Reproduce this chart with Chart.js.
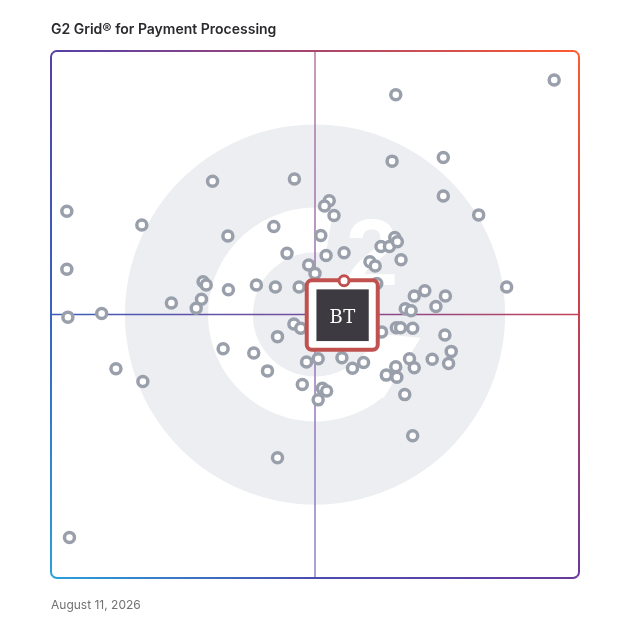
<!DOCTYPE html>
<html>
<head>
<meta charset="utf-8">
<script src="https://cdn.jsdelivr.net/npm/chart.js@4.4.1/dist/chart.umd.min.js"></script>
<style>
  html, body { margin: 0; padding: 0; background: #ffffff; }
  #wrap { position: relative; width: 628px; height: 628px; }
  #chartBox { position: absolute; left: 0; top: 0; width: 628px; height: 628px; }
  #title { position: absolute; left: 51px; top: 20px; font-family: Inter, "Noto Sans", sans-serif; font-weight: 600; font-size: 14px; color: #2a2a2e; white-space: nowrap; }
  #date { position: absolute; left: 51px; top: 597px; font-family: Inter, "Noto Sans", sans-serif; font-weight: 400; font-size: 12px; color: #717171; white-space: nowrap; }
</style>
</head>
<body>
<div id="wrap">
  <div id="chartBox"><canvas id="c"></canvas></div>
  <div id="title">G2 Grid® for Payment Processing</div>
  <div id="date">August 11, 2026</div>
</div>
<script>
// Satisfaction (x) and Market Presence (y) scores, 0..100
const satisfaction = [
  3.0, 3.0, 3.2, 9.6, 12.3, 17.4, 17.2, 30.6, 46.1, 33.5,
  42.2, 44.7, 48.8, 50.0, 28.8, 29.4, 22.8, 28.5, 27.5, 33.6,
  38.9, 42.5, 47.0, 52.7, 51.8, 53.6, 51.1, 52.1, 55.5, 60.4,
  61.4, 62.5, 64.1, 65.1, 65.6, 66.3, 61.7, 95.3, 65.3, 64.6,
  74.3, 74.3, 81.0, 86.3, 70.8, 68.8, 74.7, 72.9, 67.1, 68.2,
  65.4, 66.2, 68.5, 62.6, 74.6, 75.8, 75.3, 72.2, 67.9, 68.8,
  65.3, 63.5, 65.5, 67.0, 59.2, 57.1, 55.1, 50.6, 48.4, 47.6,
  51.4, 52.2, 50.6, 68.5, 46.0, 47.3, 42.9, 32.6, 38.4, 41.0,
  42.9, 3.5
];
const marketPresence = [
  69.6, 58.6, 49.5, 50.2, 39.7, 37.3, 67.0, 75.3, 75.7, 64.9,
  66.7, 61.6, 59.4, 57.8, 56.2, 55.6, 52.2, 52.9, 51.2, 54.7,
  55.6, 55.2, 55.2, 71.6, 70.6, 68.8, 65.0, 61.2, 61.7, 60.0,
  59.2, 62.9, 62.9, 64.6, 63.8, 60.4, 55.9, 94.5, 91.7, 79.1,
  79.8, 72.5, 68.9, 55.2, 54.5, 53.5, 53.5, 51.5, 51.1, 50.7,
  47.5, 47.5, 47.4, 46.7, 46.1, 43.0, 40.7, 41.5, 41.6, 39.9,
  40.1, 38.5, 38.1, 34.8, 40.9, 39.8, 41.8, 41.6, 41.0, 36.7,
  36.0, 35.5, 33.8, 27.0, 48.2, 47.4, 45.8, 43.5, 42.7, 39.3,
  22.8, 7.7
];
const highlightLabel = "BT";
const highlightSatisfaction = [55.5];
const highlightMarketPresence = [56.4];
const watermarkGlyph = "2";

const grayPoints = satisfaction.map((x, i) => ({ x: x, y: marketPresence[i] }));
const redPoints = highlightSatisfaction.map((x, i) => ({ x: x, y: highlightMarketPresence[i] }));

function mkGrad(ctx, x0, y0, x1, y1, stops) {
  const g = ctx.createLinearGradient(x0, y0, x1, y1);
  stops.forEach(s => g.addColorStop(s[0], s[1]));
  return g;
}

const gridPlugin = {
  id: 'g2grid',
  beforeDatasetsDraw(chart) {
    const ctx = chart.ctx;
    const xs = chart.scales.x, ys = chart.scales.y;
    const ca = chart.chartArea;
    const cx = xs.getPixelForValue(50), cy = ys.getPixelForValue(50);
    const u = xs.getPixelForValue(1) - xs.getPixelForValue(0);
    ctx.save();
    // watermark logo
    ctx.fillStyle = '#eceef1';
    ctx.beginPath();
    ctx.arc(cx, cy, 36 * u, 0, Math.PI * 2);
    ctx.fill();
    ctx.strokeStyle = '#ffffff';
    ctx.lineWidth = 8.5 * u;
    ctx.beginPath();
    ctx.arc(cx, cy, 16 * u, -80 * Math.PI / 180, 50 * Math.PI / 180, true);
    ctx.stroke();
    ctx.fillStyle = '#ffffff';
    ctx.beginPath();
    ctx.moveTo(cx + 13.4 * u, cy + 3.8 * u);
    ctx.lineTo(cx + 20.0 * u, cy + 4.4 * u);
    ctx.lineTo(cx + 13.0 * u, cy + 15.8 * u);
    ctx.lineTo(cx + 7.6 * u, cy + 9.0 * u);
    ctx.closePath();
    ctx.fill();
    ctx.font = 'bold ' + (18 * u) + 'px "Liberation Sans", Arial, sans-serif';
    ctx.textAlign = 'center';
    ctx.textBaseline = 'alphabetic';
    ctx.fillText(watermarkGlyph, cx + 10.8 * u, cy - 5.6 * u);

    // quadrant lines
    ctx.lineWidth = 1.5;
    ctx.strokeStyle = mkGrad(ctx, 0, ca.top, 0, ca.bottom, [[0, '#b47aa4'], [0.5, '#9a72b4'], [1, '#8a86cc']]);
    ctx.beginPath();
    ctx.moveTo(cx, ca.top); ctx.lineTo(cx, ca.bottom);
    ctx.stroke();
    ctx.strokeStyle = mkGrad(ctx, ca.left, 0, ca.right, 0, [[0, '#3b5cb8'], [0.5, '#7a4c9c'], [1, '#c4425a']]);
    ctx.beginPath();
    ctx.moveTo(ca.left, cy); ctx.lineTo(ca.right, cy);
    ctx.stroke();

    // gradient border
    const l = ca.left, r = ca.right, t = ca.top, b = ca.bottom;
    const mx = (l + r) / 2, my = (t + b) / 2;
    const sides = [
      { tri: [[l - 10, t - 10], [r + 10, t - 10]], g: mkGrad(ctx, l, 0, r, 0, [[0, '#5440a8'], [0.5, '#a8466e'], [1, '#ff5a2d']]) },
      { tri: [[r + 10, t - 10], [r + 10, b + 10]], g: mkGrad(ctx, 0, t, 0, b, [[0, '#ff5a2d'], [0.5, '#c8404f'], [1, '#6a3a9e']]) },
      { tri: [[l - 10, b + 10], [r + 10, b + 10]], g: mkGrad(ctx, l, 0, r, 0, [[0, '#2aa0dc'], [0.5, '#4a4cb0'], [1, '#6a3a9e']]) },
      { tri: [[l - 10, t - 10], [l - 10, b + 10]], g: mkGrad(ctx, 0, t, 0, b, [[0, '#5440a8'], [0.5, '#3a62be'], [1, '#2aa0dc']]) }
    ];
    ctx.lineWidth = 2;
    sides.forEach(s => {
      ctx.save();
      ctx.beginPath();
      ctx.moveTo(mx, my);
      ctx.lineTo(s.tri[0][0], s.tri[0][1]);
      ctx.lineTo(s.tri[1][0], s.tri[1][1]);
      ctx.closePath();
      ctx.clip();
      ctx.strokeStyle = s.g;
      ctx.beginPath();
      ctx.roundRect(l, t, r - l, b - t, 6);
      ctx.stroke();
      ctx.restore();
    });
    ctx.restore();
  },
  afterDatasetDraw(chart, args) {
    if (args.index !== 0) return;
    const ctx = chart.ctx;
    const xs = chart.scales.x, ys = chart.scales.y;
    const px = xs.getPixelForValue(highlightSatisfaction[0]);
    const py = ys.getPixelForValue(highlightMarketPresence[0]);
    ctx.save();
    ctx.fillStyle = '#ffffff';
    ctx.strokeStyle = '#c0514f';
    ctx.lineWidth = 4;
    ctx.beginPath();
    ctx.roundRect(px - 37.3, py - 0.4, 71, 69.4, 5);
    ctx.fill();
    ctx.stroke();
    ctx.fillStyle = '#3d3a41';
    ctx.fillRect(px - 27.6, py + 8.6, 52.3, 51.7);
    ctx.fillStyle = '#ffffff';
    ctx.font = '18px "DejaVu Serif", "Liberation Serif", serif';
    ctx.textAlign = 'center';
    ctx.textBaseline = 'alphabetic';
    const chars = highlightLabel.split('');
    const adv = 13;
    const x0 = px - 1.4 - adv * (chars.length - 1) / 2;
    chars.forEach((ch, i) => ctx.fillText(ch, x0 + i * adv, py + 42));
    ctx.restore();
  }
};

new Chart(document.getElementById('c'), {
  type: 'scatter',
  data: {
    datasets: [
      {
        data: grayPoints,
        order: 2,
        pointRadius: 5,
        pointBorderWidth: 3.5,
        pointBackgroundColor: '#ffffff',
        pointBorderColor: '#9aa0ab',
        pointHoverRadius: 5
      },
      {
        data: redPoints,
        order: 1,
        pointRadius: 5,
        pointBorderWidth: 3,
        pointBackgroundColor: '#ffffff',
        pointBorderColor: '#c0514f',
        pointHoverRadius: 5
      }
    ]
  },
  options: {
    responsive: true,
    maintainAspectRatio: false,
    animation: false,
    layout: { padding: { left: 51, right: 49, top: 51, bottom: 50 } },
    plugins: { legend: { display: false }, tooltip: { enabled: false } },
    scales: {
      x: { type: 'linear', min: 0, max: 100, display: false },
      y: { type: 'linear', min: 0, max: 100, display: false }
    }
  },
  plugins: [gridPlugin]
});
</script>
</body>
</html>
